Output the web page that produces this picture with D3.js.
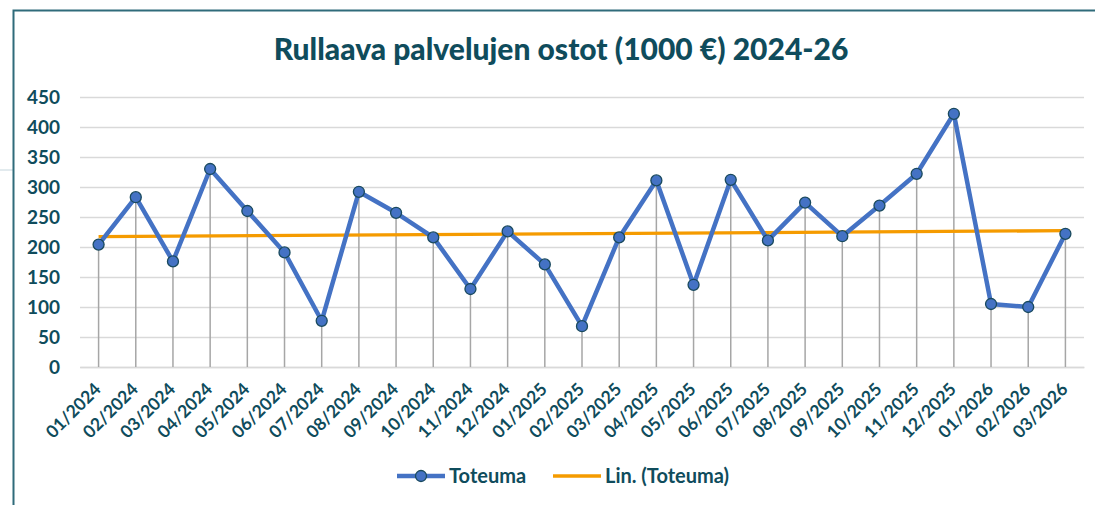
<!DOCTYPE html>
<html>
<head>
<meta charset="utf-8">
<script src="https://cdn.jsdelivr.net/npm/d3@7"></script>
<style>
  body { margin: 0; background: #fff; }
  text { font-family: Lato, "Open Sans", sans-serif; font-weight: bold; fill: #0f4c5c; }
</style>
</head>
<body>
<svg id="chart" width="1095" height="505"></svg>
<script>
// monthly values
var months = ['01/2024','02/2024','03/2024','04/2024','05/2024','06/2024','07/2024','08/2024','09/2024',
  '10/2024','11/2024','12/2024','01/2025','02/2025','03/2025','04/2025','05/2025','06/2025',
  '07/2025','08/2025','09/2025','10/2025','11/2025','12/2025','01/2026','02/2026','03/2026'];
var toteuma = [204, 283, 176, 330, 260, 191, 77, 292, 257,
  216, 130, 226, 171, 68, 216, 311, 137, 312,
  211, 274, 218, 269, 322, 422, 105, 100, 222];
var yTicks = [0, 50, 100, 150, 200, 250, 300, 350, 400, 450];
var titleText = 'Rullaava palvelujen ostot (1000 €) 2024-26';
var legendNames = ['Toteuma', 'Lin. (Toteuma)'];

var blue = '#4472c4', orange = '#f59b00', dark = '#0f4c5c';

var svg = d3.select('#chart');
var margin = {t: 97, l: 80, r: 1084, b: 367};

// frame of the chart area
svg.append('line').attr('x1', 0).attr('x2', 13).attr('y1', 170).attr('y2', 170)
  .attr('stroke', '#c5d6dd').attr('stroke-width', 1);
svg.append('rect').attr('x', 13.5).attr('y', 10.5).attr('width', 1100).attr('height', 520)
  .attr('fill', 'none').attr('stroke', '#2f6b7a').attr('stroke-width', 2);

svg.append('text').attr('x', 561).attr('y', 60).attr('text-anchor', 'middle')
  .style('font-size', '30px').style('font-weight', 900).text(titleText);

var x = d3.scaleBand().domain(months).range([margin.l, margin.r]);
var y = d3.scaleLinear().domain([0, 450]).range([margin.b, margin.t]);
var cx = function(d) { return x(d) + x.bandwidth() / 2; };

// gridlines
var yAxis = d3.axisLeft(y).tickValues(yTicks).tickSize(-(margin.r - margin.l)).tickPadding(20);
var gy = svg.append('g').attr('transform', 'translate(' + margin.l + ',0)').call(yAxis);
gy.select('.domain').remove();
gy.selectAll('line').attr('stroke', '#d9d9d9').attr('stroke-width', 1.3);
gy.selectAll('text').style('font-size', '19px').attr('fill', dark);

// x axis
var xAxis = d3.axisBottom(x).tickSize(0).tickPadding(10);
var gx = svg.append('g').attr('transform', 'translate(0,' + margin.b + ')').call(xAxis);
gx.select('.domain').attr('stroke', '#d9d9d9').attr('stroke-width', 1.3);
gx.selectAll('text').style('font-size', '17.5px').attr('fill', dark)
  .attr('text-anchor', 'end')
  .attr('transform', 'translate(-8,12) rotate(-45)')
  .attr('dy', '0.35em');

// drop lines
svg.append('g').selectAll('line').data(months).join('line')
  .attr('x1', cx).attr('x2', cx)
  .attr('y1', function(d, i) { return y(toteuma[i]); })
  .attr('y2', y(0))
  .attr('stroke', '#a6a6a6').attr('stroke-width', 1.5);

// linear trend
var n = toteuma.length;
var mx = d3.mean(toteuma, function(d, i) { return i; });
var my = d3.mean(toteuma);
var slope = d3.sum(toteuma, function(d, i) { return (i - mx) * (d - my); }) /
  d3.sum(toteuma, function(d, i) { return (i - mx) * (i - mx); });
var trend = function(i) { return my + slope * (i - mx); };
svg.append('line')
  .attr('x1', cx(months[0])).attr('x2', cx(months[n - 1]))
  .attr('y1', y(trend(0))).attr('y2', y(trend(n - 1)))
  .attr('stroke', orange).attr('stroke-width', 3.3);

// main series
var line = d3.line()
  .x(function(d, i) { return cx(months[i]); })
  .y(function(d) { return y(d); });
svg.append('path').datum(toteuma)
  .attr('d', line).attr('fill', 'none')
  .attr('stroke', blue).attr('stroke-width', 4.5).attr('stroke-linejoin', 'round');

svg.append('g').selectAll('circle').data(toteuma).join('circle')
  .attr('cx', function(d, i) { return cx(months[i]); })
  .attr('cy', function(d) { return y(d); })
  .attr('r', 5.5)
  .attr('fill', blue).attr('stroke', '#1a4a5e').attr('stroke-width', 1.3);

// legend
var lg = svg.append('g').attr('transform', 'translate(0,476)');
lg.append('line').attr('x1', 397).attr('x2', 445).attr('stroke', blue).attr('stroke-width', 4.5);
lg.append('circle').attr('cx', 421).attr('r', 5.5).attr('fill', blue).attr('stroke', '#1a4a5e').attr('stroke-width', 1.3);
lg.append('text').attr('x', 449).attr('dy', '0.35em').style('font-size', '20px').text(legendNames[0]);
lg.append('line').attr('x1', 553).attr('x2', 601).attr('stroke', orange).attr('stroke-width', 3.3);
lg.append('text').attr('x', 605).attr('dy', '0.35em').style('font-size', '20px').text(legendNames[1]);
</script>
</body>
</html>
